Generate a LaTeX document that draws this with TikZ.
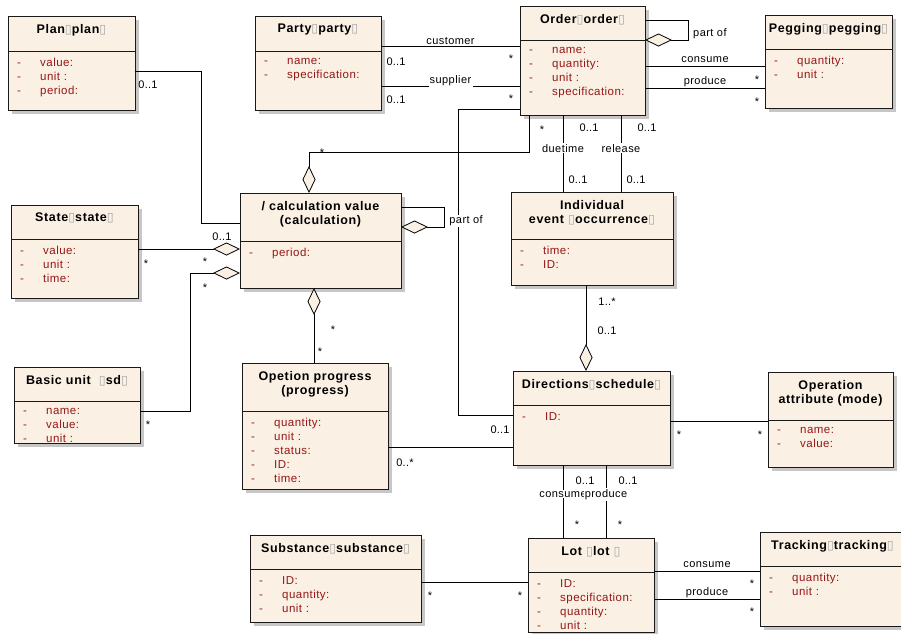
\documentclass[tikz,border=0pt]{standalone}
\usepackage{fontspec}
\setmainfont{Liberation Sans}
\newfontfamily\symfont{DejaVu Sans}
\usetikzlibrary{arrows.meta,calc,shadows}

\definecolor{cream}{RGB}{250,240,228}
\definecolor{attrred}{RGB}{150,22,22}

% placeholder glyph shown after class names
\newcommand\nog{{\symfont\color{black!35}\char"25AF}}
% one attribute row: visibility dash + name
\newcommand\at[1]{\makebox[23pt][l]{-}#1}

\tikzset{
  x=1pt, y=-1pt,
  cls/.style={draw=black!90, line width=1pt, fill=cream, inner sep=0pt, outer sep=0pt,
    drop shadow={shadow xshift=4pt, shadow yshift=-4pt, fill=black!22, opacity=1}},
  clsline/.style={draw=black!90, line width=1pt},
  ttl/.style={font=\bfseries\fontsize{12.5}{14}\selectfont\addfontfeature{LetterSpace=5},
    align=center, inner sep=0pt},
  atr/.style={font=\fontsize{11.5}{14}\selectfont\addfontfeature{LetterSpace=4},
    text=attrred, align=left, inner sep=0pt},
  conn/.style={draw=black, line width=0.8pt},
  agg/.style={conn, -{Diamond[length=27pt,width=13pt,fill=cream,line width=0.8pt]}},
  lab/.style={font=\fontsize{11}{12}\selectfont\addfontfeature{LetterSpace=4}, fill=white, inner sep=1.2pt},
  mult/.style={font=\fontsize{11}{12}\selectfont\addfontfeature{LetterSpace=2}, inner sep=0pt},
}

% #1 name, #2 x, #3 y, #4 width, #5 height, #6 header height, #7 title, #8 attributes
\newcommand\umlclass[8]{%
  \node[cls, minimum width=#4, minimum height=#5, anchor=north west] (#1) at (#2,#3) {};
  \draw[clsline] ([yshift=-#6]#1.north west) -- ([yshift=-#6]#1.north east);
  \node[ttl, anchor=north] (#1-title) at ([yshift=-8pt]#1.north) {#7};
  \node[atr, anchor=north west] (#1-attrs) at ([xshift=9pt,yshift=-#6-7pt]#1.north west) {#8};
}

\begin{document}
\begin{tikzpicture}
\useasboundingbox (0,0) rectangle (901,633);
\clip (0,0) rectangle (901,633);

% ---------- classes ----------
\umlclass{plan}{8}{16}{127pt}{94pt}{35pt}{Plan\nog plan\nog}{\at{value:}\\\at{unit :}\\\at{period:}}
\umlclass{party}{255}{16}{126pt}{94pt}{35pt}{Party\nog party\nog}{\at{name:}\\\at{specification:}}
\umlclass{order}{520}{6}{125pt}{109pt}{34pt}{Order\nog order\nog}{\at{name:}\\\at{quantity:}\\\at{unit :}\\\at{specification:}}
\umlclass{pegging}{765}{15}{127pt}{93pt}{34pt}{Pegging\nog pegging\nog}{\at{quantity:}\\\at{unit :}}
\umlclass{calc}{240}{193}{161pt}{95pt}{48pt}{/ calculation value\\(calculation)}{\at{period:}}
\umlclass{state}{11}{205}{127pt}{93pt}{34pt}{State\nog state\nog}{\at{value:}\\\at{unit :}\\\at{time:}}
\umlclass{basic}{14}{367}{126pt}{76pt}{34pt}{Basic unit \ \nog sd\nog}{\at{name:}\\\at{value:}\\\at{unit :}}
\umlclass{progress}{242}{363}{146pt}{126pt}{48pt}{Opetion progress\\(progress)}{\at{quantity:}\\\at{unit :}\\\at{status:}\\\at{ID:}\\\at{time:}}
\umlclass{event}{511}{192}{162pt}{93pt}{47pt}{Individual\\event \nog occurrence\nog}{\at{time:}\\\at{ID:}}
\umlclass{sched}{513}{371}{157pt}{94pt}{34pt}{Directions\nog schedule\nog}{\at{ID:}}
\umlclass{mode}{768}{372}{125pt}{95pt}{48pt}{Operation\\attribute (mode)}{\at{name:}\\\at{value:}}
\umlclass{subst}{250}{535}{171pt}{87pt}{34pt}{Substance\nog substance\nog}{\at{ID:}\\\at{quantity:}\\\at{unit :}}
\umlclass{lot}{528}{538}{126pt}{94pt}{34pt}{Lot \nog lot \nog}{\at{ID:}\\\at{specification:}\\\at{quantity:}\\\at{unit :}}
\umlclass{track}{760}{532}{145pt}{94pt}{34pt}{Tracking\nog tracking\nog}{\at{quantity:}\\\at{unit :}}

% ---------- associations ----------
% plan -- calculation
\draw[conn] ([yshift=-55pt]plan.north east) -| ($(calc.north west)+(-39,30)$) -- ([yshift=-30pt]calc.north west);
% party -- order
\draw[conn] ([yshift=-30pt]party.north east) -- node[lab, yshift=5pt] (l-cust) {customer} ([yshift=-40pt]order.north west);
\draw[conn] ([yshift=-70pt]party.north east) -- node[lab, yshift=5pt] (l-supp) {supplier} ([yshift=-80pt]order.north west);
% order self aggregation
\draw[agg] ([yshift=-14pt]order.north east) -- ++(43,0) -- ++(0,20) -- ([yshift=-34pt]order.north east);
% order -- pegging
\draw[conn] ([yshift=-60pt]order.north east) -- node[lab, yshift=6pt] (l-ocons) {consume} ([yshift=-51pt]pegging.north west);
\draw[conn] ([yshift=-82pt]order.north east) -- node[lab, yshift=6pt] (l-oprod) {produce} ([yshift=-73pt]pegging.north west);
% order -- calculation (aggregation on top)
\draw[agg] ([xshift=9pt]order.south west) |- ([xshift=69pt,yshift=41pt]calc.north west) -- ([xshift=69pt]calc.north west);
% order -- schedule (part of)
\draw[conn] ([yshift=-103pt]order.north west) -| ([xshift=-55pt,yshift=-44pt]sched.north west) -- ([yshift=-44pt]sched.north west);
% order -- event
\draw[conn] ([xshift=43pt]order.south west) -- node[lab, pos=0.43] (l-due) {duetime} ([xshift=52pt]event.north west);
\draw[conn] ([xshift=101pt]order.south west) -- node[lab, pos=0.43] (l-rel) {release} ([xshift=110pt]event.north west);
% calculation self aggregation
\draw[agg] ([yshift=-14pt]calc.north east) -- ++(43,0) -- ++(0,20) -- ([yshift=-34pt]calc.north east);
\node[lab, anchor=west] (l-calcpart) at (448,221) {part of};
% state / basic unit -- calculation
\draw[agg] ([yshift=-44pt]state.north east) -- ([yshift=-56pt]calc.north west);
\draw[agg] ([yshift=-44pt]basic.north east) -| ($(calc.north west)+(-50,80)$) -- ([yshift=-80pt]calc.north west);
% progress -- calculation
\draw[agg] ([xshift=72pt]progress.north west) -- ([xshift=74pt]calc.south west);
% event -- schedule
\draw[agg] ([xshift=75pt]event.south west) -- ([xshift=73pt]sched.north west);
% progress -- schedule
\draw[conn] ([yshift=-84pt]progress.north east) -- ([yshift=-76pt]sched.north west);
% schedule -- operation attribute
\draw[conn] ([yshift=-50pt]sched.north east) -- ([yshift=-49pt]mode.north west);
% schedule -- lot
\draw[conn] ([xshift=50pt]sched.south west) -- node[lab, pos=0.4] (l-scons) {consume} ([xshift=35pt]lot.north west);
\draw[conn] ([xshift=93pt]sched.south west) -- node[lab, pos=0.4] (l-sprod) {produce} ([xshift=78pt]lot.north west);
% substance -- lot
\draw[conn] ([yshift=-47pt]subst.north east) -- ([yshift=-44pt]lot.north west);
% lot -- tracking
\draw[conn] ([yshift=-33pt]lot.north east) -- node[lab, yshift=6pt] (l-lcons) {consume} ([yshift=-39pt]track.north west);
\draw[conn] ([yshift=-61pt]lot.north east) -- node[lab, yshift=6pt] (l-lprod) {produce} ([yshift=-67pt]track.north west);

% ---------- role names and multiplicities ----------
\node[lab, fill=none, inner sep=0pt, anchor=west] (l-opart) at (693,34) {part of};
\node[mult] (m1) at (148,85) {0..1};
\node[mult] (m2) at (396,62) {0..1};
\node[mult] (m3) at (511,59) {*};
\node[mult] (m4) at (396,100) {0..1};
\node[mult] (m5) at (511,99) {*};
\node[mult] (m6) at (757,80) {*};
\node[mult] (m7) at (757,102) {*};
\node[mult] (m8) at (542,130) {*};
\node[mult] (m9) at (322,153) {*};
\node[mult] (m10) at (589,128) {0..1};
\node[mult] (m11) at (578,180) {0..1};
\node[mult] (m12) at (647,128) {0..1};
\node[mult] (m13) at (636,180) {0..1};
\node[mult] (m14) at (222,237) {0..1};
\node[mult] (m15) at (146,264) {*};
\node[mult] (m16) at (205,262) {*};
\node[mult] (m17) at (205,288) {*};
\node[mult] (m18) at (148,425) {*};
\node[mult] (m19) at (333,330) {*};
\node[mult] (m20) at (320,352) {*};
\node[mult] (m21) at (607,302) {1..*};
\node[mult] (m22) at (607,331) {0..1};
\node[mult] (m23) at (500,430) {0..1};
\node[mult] (m24) at (405,463) {0..*};
\node[mult] (m25) at (679,435) {*};
\node[mult] (m26) at (760,435) {*};
\node[mult] (m27) at (585,481) {0..1};
\node[mult] (m28) at (628,481) {0..1};
\node[mult] (m29) at (577,525) {*};
\node[mult] (m30) at (620,525) {*};
\node[mult] (m31) at (430,596) {*};
\node[mult] (m32) at (520,596) {*};
\node[mult] (m33) at (752,584) {*};
\node[mult] (m34) at (752,612) {*};
\end{tikzpicture}
\end{document}
